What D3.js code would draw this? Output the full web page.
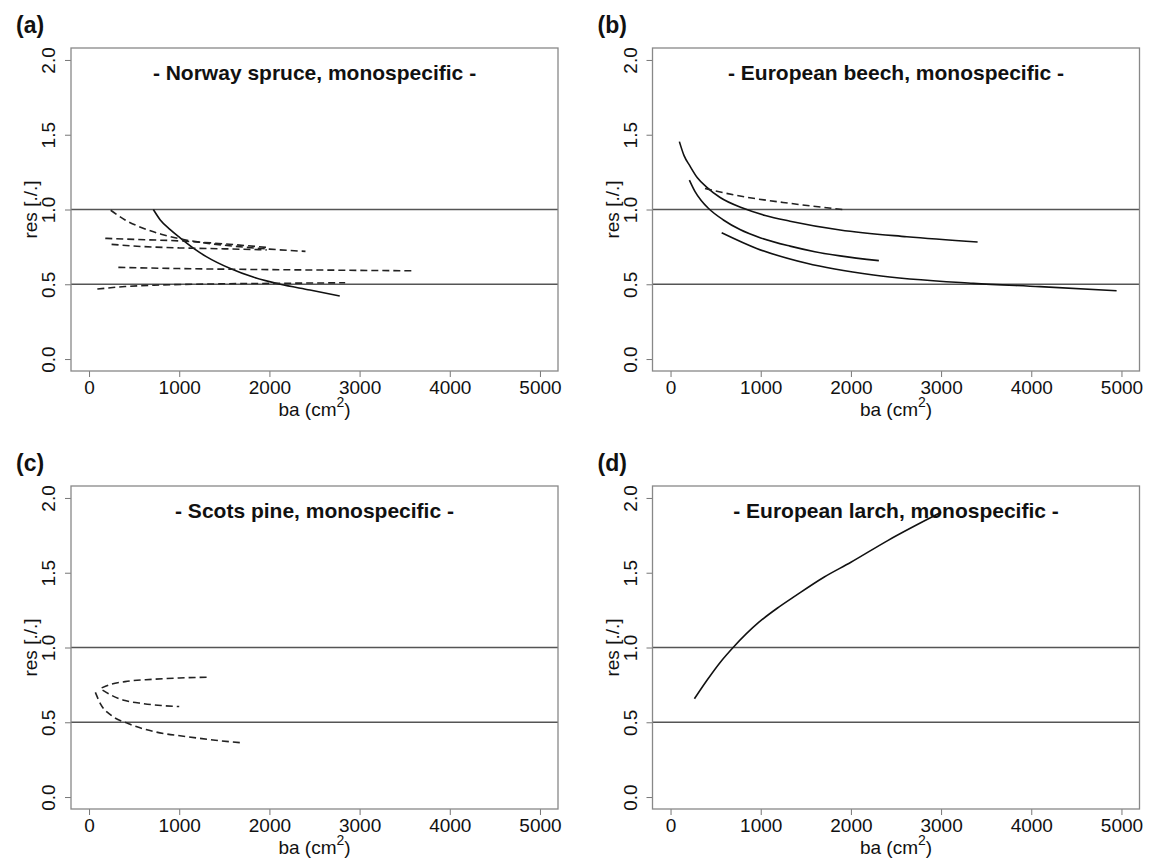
<!DOCTYPE html>
<html>
<head>
<meta charset="utf-8">
<script src="https://cdn.jsdelivr.net/npm/d3@7"></script>
<style>
  body { margin: 0; background: #fff; }
  svg { display: block; font-family: "Liberation Sans", Arial, sans-serif; }
</style>
</head>
<body>
<svg id="chart" width="1150" height="860"></svg>
<script>
// valori: [ba (cm2), res]
const panelLetters = ["(a)", "(b)", "(c)", "(d)"];
const panelTitles = [
    "- Norway spruce, monospecific -",
    "- European beech, monospecific -",
    "- Scots pine, monospecific -",
    "- European larch, monospecific -"
];
const xTicks = [0, 1000, 2000, 3000, 4000, 5000];
const yTicks = [0, 0.5, 1, 1.5, 2];
const refLines = [0.5, 1.0];

// (a) abete rosso
const spruceSolid = [[713, 1.0], [790, 0.93], [900, 0.865], [1010, 0.81], [1160, 0.74], [1300, 0.685],
    [1560, 0.607], [1820, 0.548], [2120, 0.5], [2450, 0.462], [2780, 0.422]];
const spruceDash1 = [[240, 0.995], [400, 0.93], [600, 0.875], [800, 0.835], [1000, 0.805], [1300, 0.775],
    [1600, 0.755], [2000, 0.735], [2400, 0.72]];
const spruceDash2 = [[180, 0.807], [500, 0.80], [1000, 0.79], [1500, 0.77], [2000, 0.745]];
const spruceDash3 = [[250, 0.767], [600, 0.752], [1000, 0.743], [1500, 0.737], [1970, 0.73]];
const spruceDash4 = [[325, 0.613], [1000, 0.605], [2000, 0.598], [3000, 0.593], [3610, 0.59]];
const spruceDash5 = [[92, 0.468], [400, 0.485], [790, 0.495], [1500, 0.503], [2200, 0.507], [2840, 0.51]];

// (b) faggio
const beechSolid1 = [[98, 1.454], [150, 1.36], [216, 1.29], [300, 1.21], [400, 1.15], [550, 1.08],
    [807, 1.008], [1050, 0.96], [1325, 0.922], [1880, 0.863], [2620, 0.818], [3405, 0.783]];
const beechSolid2 = [[209, 1.197], [272, 1.12], [340, 1.06], [419, 1.008], [586, 0.93], [770, 0.866],
    [1000, 0.81], [1325, 0.755], [1600, 0.718], [1880, 0.69], [2310, 0.658]];
const beechSolid3 = [[567, 0.845], [955, 0.74], [1510, 0.64], [2250, 0.562], [3357, 0.506], [4096, 0.484],
    [4946, 0.457]];
const beechDash1 = [[382, 1.14], [770, 1.09], [1325, 1.041], [1909, 1.0]];

// (c) pino silvestre
const pineDash1 = [[140, 0.73], [250, 0.755], [400, 0.772], [700, 0.787], [1000, 0.796], [1340, 0.802]];
const pineDash2 = [[150, 0.715], [250, 0.68], [400, 0.645], [600, 0.625], [800, 0.612], [1000, 0.605]];
const pineDash3 = [[70, 0.70], [130, 0.62], [250, 0.545], [440, 0.49], [740, 0.435], [1070, 0.405],
    [1400, 0.38], [1700, 0.362]];

// (d) larice
const larchSolid = [[265, 0.657], [408, 0.784], [550, 0.90], [694, 1.0], [980, 1.169], [1200, 1.27],
    [1388, 1.347], [1700, 1.47], [2000, 1.57], [2408, 1.715], [3000, 1.904]];

const panels = [
    { left: 71, top: 48, solid: [spruceSolid], dashed: [spruceDash1, spruceDash2, spruceDash3, spruceDash4, spruceDash5] },
    { left: 652.5, top: 48, solid: [beechSolid1, beechSolid2, beechSolid3], dashed: [beechDash1] },
    { left: 71, top: 486, solid: [], dashed: [pineDash1, pineDash2, pineDash3] },
    { left: 652.5, top: 486, solid: [larchSolid], dashed: [] }
];
const W = 487, H = 323;

const svg = d3.select("#chart");

panels.forEach(function (p, i) {
    const g = svg.append("g").attr("transform", "translate(" + p.left + "," + p.top + ")");

    const x = d3.scaleLinear().domain([-200, 5200]).range([0, W]);
    const y = d3.scaleLinear().domain([-0.08, 2.08]).range([H, 0]);

    // assi
    const xAx = g.append("g").attr("transform", "translate(0," + H + ")")
        .call(d3.axisBottom(x).tickValues(xTicks).tickSize(6).tickFormat(d3.format("d")));
    xAx.select(".domain").remove();
    xAx.selectAll("line").attr("stroke", "#777");
    xAx.selectAll("text").attr("y", 22.5).attr("dy", 0)
        .style("font-size", "19px").attr("fill", "#111");

    const yAx = g.append("g")
        .call(d3.axisLeft(y).tickValues(yTicks).tickSize(6).tickFormat(d3.format(".1f")));
    yAx.select(".domain").remove();
    yAx.selectAll("line").attr("stroke", "#777");
    yAx.selectAll("text")
        .attr("transform", "rotate(-90)")
        .attr("x", 0).attr("y", -16).attr("dy", 0)
        .attr("text-anchor", "middle")
        .style("font-size", "19px").attr("fill", "#111");

    // linee di riferimento
    g.selectAll(".ref").data(refLines).enter().append("line")
        .attr("x1", 0).attr("x2", W)
        .attr("y1", d => y(d)).attr("y2", d => y(d))
        .attr("stroke", "#555").attr("stroke-width", 1.5);

    const line = d3.line().x(d => x(d[0])).y(d => y(d[1])).curve(d3.curveMonotoneX);

    g.selectAll(".solid").data(p.solid).enter().append("path")
        .attr("d", line).attr("fill", "none")
        .attr("stroke", "#111").attr("stroke-width", 1.6);

    g.selectAll(".dash").data(p.dashed).enter().append("path")
        .attr("d", line).attr("fill", "none")
        .attr("stroke", "#222").attr("stroke-width", 1.6)
        .attr("stroke-dasharray", "7,4");

    // cornice
    g.append("rect").attr("width", W).attr("height", H)
        .attr("fill", "none").attr("stroke", "#888").attr("stroke-width", 1.3);

    // titolo interno
    g.append("text").attr("x", W / 2).attr("y", 32)
        .attr("text-anchor", "middle")
        .style("font-size", "21px").style("font-weight", "bold").attr("fill", "#111")
        .text(panelTitles[i]);

    // etichette assi
    const xl = g.append("text").attr("x", W / 2).attr("y", H + 45)
        .attr("text-anchor", "middle").style("font-size", "19px").attr("fill", "#111");
    xl.append("tspan").text("ba (cm");
    xl.append("tspan").attr("dy", -9).style("font-size", "14px").text("2");
    xl.append("tspan").attr("dy", 9).text(")");

    g.append("text")
        .attr("transform", "translate(-34," + (H / 2) + ") rotate(-90)")
        .attr("text-anchor", "middle").style("font-size", "19px").attr("fill", "#111")
        .text("res [./.]");

    // lettera del pannello
    svg.append("text").attr("x", p.left - 55).attr("y", p.top - 15)
        .style("font-size", "23px").style("font-weight", "bold").attr("fill", "#111")
        .text(panelLetters[i]);
});
</script>
</body>
</html>
